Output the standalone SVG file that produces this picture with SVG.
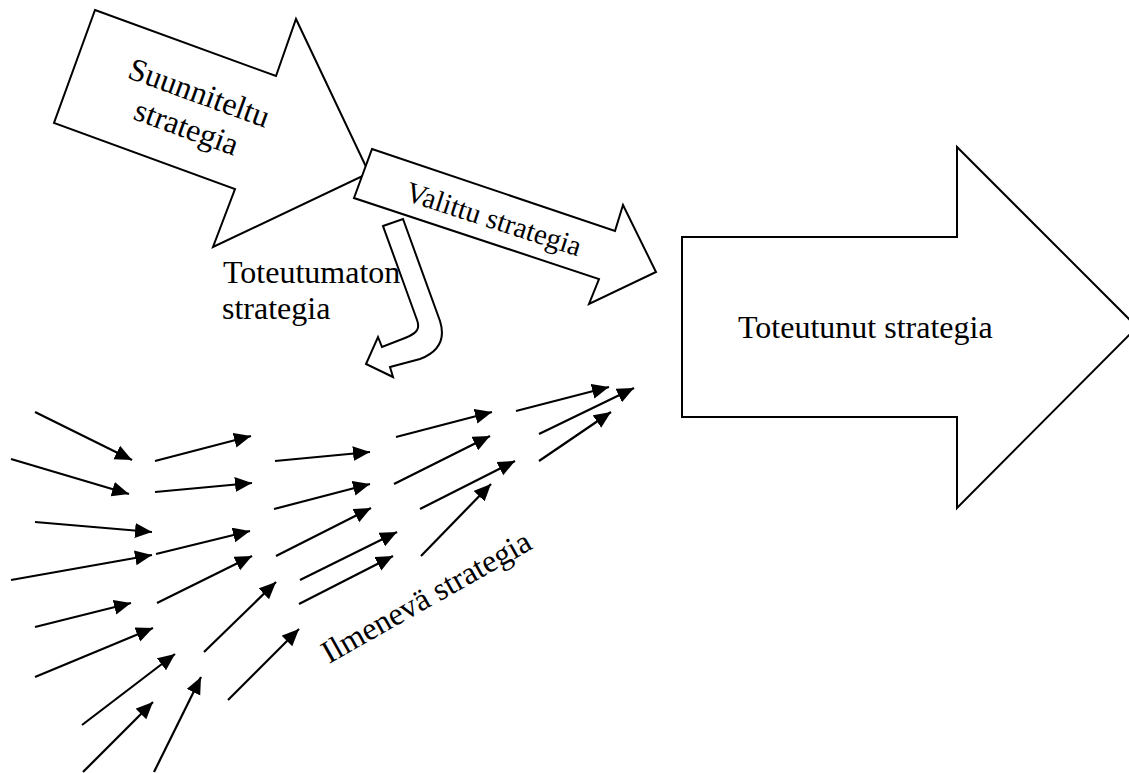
<svg xmlns="http://www.w3.org/2000/svg" width="1129" height="773" viewBox="0 0 1129 773">
<style>
.shape{fill:#fff;stroke:#000;stroke-width:2;stroke-linejoin:miter}
.lbl{font-family:"Liberation Serif","Times New Roman",serif;font-size:32px;fill:#000}
.ln{stroke:#000;stroke-width:2.2;fill:none;marker-end:url(#ah)}
</style>
<defs>
<marker id="ah" markerUnits="userSpaceOnUse" markerWidth="18" markerHeight="16" refX="17" refY="7.5" orient="auto">
<path d="M0,0 L17,7.5 L0,15 Z" fill="#000"/>
</marker>
</defs>
<rect width="1129" height="773" fill="#fff"/>

<g id="suunniteltu">
<polygon class="shape" points="95,10 276,76 296,19 369,173 213,247 235,189 54,123"/>
<g transform="translate(128,78) rotate(20)">
<text class="lbl" x="72" y="0" text-anchor="middle">Suunniteltu</text>
<text class="lbl" x="72" y="37" text-anchor="middle">strategia</text>
</g>
</g>

<g id="valittu">
<polygon class="shape" points="372,149 615,231 623,205 656,272 589,304 599,279 354,198"/>
<text class="lbl" style="font-size:29px" transform="translate(404,200) rotate(18)">Valittu strategia</text>
</g>

<g id="toteutumaton">
<text class="lbl" x="223" y="283">Toteutumaton</text>
<text class="lbl" x="222" y="319">strategia</text>
<path class="shape" d="M383,226 L403,219 L440,321 C446,340 438,352 420,359 L390,367 L393,377 L366,364 L378,337 L382,347 L405,338 C418,333 420,328 417,320 Z"/>
</g>

<g id="toteutunut">
<polygon class="shape" points="682,237 957,237 957,147 1137,327 957,508 957,417 682,417"/>
<text class="lbl" x="738" y="338">Toteutunut strategia</text>
</g>

<g id="ilmeneva">
<text class="lbl" transform="translate(329,664) rotate(-29.5)">Ilmenevä strategia</text>
</g>

<g id="connectors">
<line class="ln" x1="35" y1="412" x2="132" y2="460"/>
<line class="ln" x1="11" y1="459" x2="129" y2="494"/>
<line class="ln" x1="35" y1="522" x2="152" y2="532"/>
<line class="ln" x1="11" y1="580" x2="152" y2="555"/>
<line class="ln" x1="35" y1="627" x2="131" y2="603"/>
<line class="ln" x1="35" y1="677" x2="153" y2="628"/>
<line class="ln" x1="82" y1="725" x2="175" y2="654"/>
<line class="ln" x1="83" y1="772" x2="153" y2="702"/>
<line class="ln" x1="154" y1="772" x2="201" y2="677"/>

<line class="ln" x1="155" y1="461" x2="251" y2="436"/>
<line class="ln" x1="155" y1="492" x2="252" y2="483"/>
<line class="ln" x1="156" y1="554" x2="250" y2="531"/>
<line class="ln" x1="157" y1="603" x2="252" y2="556"/>
<line class="ln" x1="204" y1="652" x2="276" y2="582"/>
<line class="ln" x1="228" y1="700" x2="299" y2="629"/>

<line class="ln" x1="275" y1="461" x2="370" y2="452"/>
<line class="ln" x1="274" y1="509" x2="370" y2="484"/>
<line class="ln" x1="276" y1="556" x2="371" y2="508"/>
<line class="ln" x1="300" y1="580" x2="397" y2="532"/>
<line class="ln" x1="299" y1="604" x2="393" y2="556"/>

<line class="ln" x1="396" y1="437" x2="492" y2="412"/>
<line class="ln" x1="394" y1="484" x2="490" y2="436"/>
<line class="ln" x1="420" y1="509" x2="515" y2="461"/>
<line class="ln" x1="421" y1="556" x2="491" y2="484"/>

<line class="ln" x1="516" y1="411" x2="609" y2="387"/>
<line class="ln" x1="539" y1="434" x2="634" y2="388"/>
<line class="ln" x1="539" y1="461" x2="611" y2="412"/>
</g>
</svg>
